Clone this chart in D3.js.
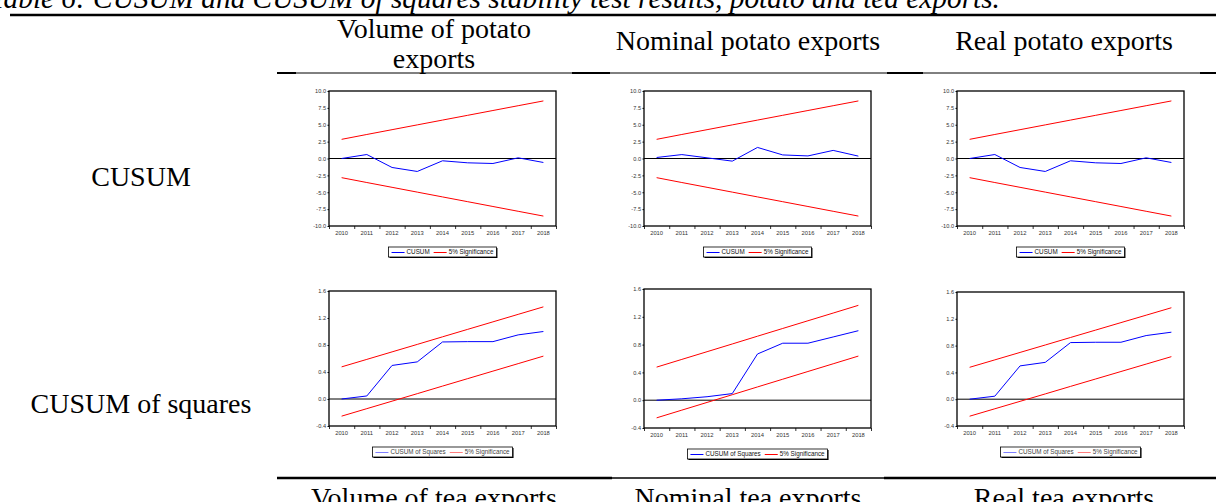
<!DOCTYPE html>
<html>
<head>
<meta charset="utf-8">
<script src="https://cdn.jsdelivr.net/npm/d3@7"></script>
<style>
  body { margin: 0; background: #fff; }
  svg { display: block; }
</style>
</head>
<body>
<svg></svg>
<script>
/* Data */
const years = ['2010', '2011', '2012', '2013', '2014', '2015', '2016', '2017', '2018']

const cusumVolumePotato = [0, 0.59, -1.33, -1.92, -0.34, -0.64, -0.74, 0.1, -0.59]
const cusumNominalPotato = [0.15, 0.58, 0.1, -0.39, 1.64, 0.53, 0.38, 1.2, 0.35]
const cusumRealPotato = [0, 0.59, -1.33, -1.92, -0.34, -0.64, -0.74, 0.1, -0.59]
const cusumUpper = [2.84, 3.56, 4.27, 4.98, 5.69, 6.40, 7.11, 7.82, 8.53]
const cusumLower = [-2.84, -3.56, -4.27, -4.98, -5.69, -6.40, -7.11, -7.82, -8.53]

const cusumsqVolumeTea = [0, 0.045, 0.497, 0.55, 0.845, 0.85, 0.85, 0.95, 1.0]
const cusumsqNominalTea = [0, 0.02, 0.05, 0.095, 0.665, 0.82, 0.82, 0.91, 1.0]
const cusumsqRealTea = [0, 0.045, 0.497, 0.55, 0.845, 0.85, 0.85, 0.95, 1.0]
const cusumsqUpper = [0.476, 0.587, 0.698, 0.809, 0.921, 1.032, 1.143, 1.254, 1.365]
const cusumsqLower = [-0.254, -0.143, -0.032, 0.079, 0.191, 0.302, 0.413, 0.524, 0.635]

const cusumTicks = [-10, -7.5, -5, -2.5, 0, 2.5, 5, 7.5, 10]
const cusumsqTicks = [-0.4, 0, 0.4, 0.8, 1.2, 1.6]

const title = 'Table 6: CUSUM and CUSUM of squares stability test results, potato and tea exports.'
const topHeaders = [['Volume of potato', 'exports'], ['Nominal potato exports'], ['Real potato exports']]
const bottomHeaders = ['Volume of tea exports', 'Nominal tea exports', 'Real tea exports']
const rowLabels = ['CUSUM', 'CUSUM of squares']

let svgWidth = 1216
let svgHeight = 502
let serif = 'Liberation Serif, Times New Roman, serif'
let sans = 'Liberation Sans, Arial, sans-serif'

let svg = d3.select('svg')
    .attr('width', svgWidth)
    .attr('height', svgHeight)

svg.append('rect')
    .attr('width', svgWidth)
    .attr('height', svgHeight)
    .attr('fill', '#fff')

/* Title (cut at the top edge) */
svg.append('text')
    .attr('x', -10)
    .attr('y', 8)
    .attr('font-family', serif)
    .attr('font-style', 'italic')
    .attr('font-size', 29.3)
    .text(title)

/* Table rules */
function rule(x0, x1, y, w) {
  svg.append('line')
      .attr('x1', x0).attr('x2', x1)
      .attr('y1', y).attr('y2', y)
      .attr('stroke', '#000')
      .attr('stroke-width', w)
}
rule(10, 1216, 15, 2.5)
rule(277, 1216, 73, 1)
;[[277, 296], [572, 610], [887, 923], [1200, 1216]].forEach(s => rule(s[0], s[1], 73, 2))
rule(277, 612, 478, 2.5)
rule(612, 884, 478, 1.5)
rule(884, 1216, 478, 2.5)

/* Column headers */
let colCenters = [434, 748, 1064]
topHeaders.forEach((lines, i) => {
  let ys = lines.length === 2 ? [38, 68] : [50]
  lines.forEach((t, j) => {
    svg.append('text')
        .attr('x', colCenters[i])
        .attr('y', ys[j])
        .attr('text-anchor', 'middle')
        .attr('font-family', serif)
        .attr('font-size', 28)
        .text(t)
  })
})
bottomHeaders.forEach((t, i) => {
  svg.append('text')
      .attr('x', colCenters[i])
      .attr('y', 507)
      .attr('text-anchor', 'middle')
      .attr('font-family', serif)
      .attr('font-size', 28)
      .text(t)
})

/* Row labels */
;[186, 413].forEach((y, i) => {
  svg.append('text')
      .attr('x', 141)
      .attr('y', y)
      .attr('text-anchor', 'middle')
      .attr('font-family', serif)
      .attr('font-size', 28)
      .text(rowLabels[i])
})

/* Panels */
let panels = [
  { x0: 329, x1: 556, y0: 91, y1: 226, domain: [-10, 10], ticks: cusumTicks, values: cusumVolumePotato, upper: cusumUpper, lower: cusumLower, label: 'CUSUM', legendY: 247, fade: false },
  { x0: 644, x1: 871, y0: 91, y1: 226, domain: [-10, 10], ticks: cusumTicks, values: cusumNominalPotato, upper: cusumUpper, lower: cusumLower, label: 'CUSUM', legendY: 247, fade: false },
  { x0: 957, x1: 1184, y0: 91, y1: 226, domain: [-10, 10], ticks: cusumTicks, values: cusumRealPotato, upper: cusumUpper, lower: cusumLower, label: 'CUSUM', legendY: 247, fade: false },
  { x0: 329, x1: 556, y0: 291, y1: 426, domain: [-0.4, 1.6], ticks: cusumsqTicks, values: cusumsqVolumeTea, upper: cusumsqUpper, lower: cusumsqLower, label: 'CUSUM of Squares', legendY: 447, fade: true },
  { x0: 644, x1: 871, y0: 289, y1: 428, domain: [-0.4, 1.6], ticks: cusumsqTicks, values: cusumsqNominalTea, upper: cusumsqUpper, lower: cusumsqLower, label: 'CUSUM of Squares', legendY: 449, fade: false },
  { x0: 957, x1: 1184, y0: 292, y1: 426, domain: [-0.4, 1.6], ticks: cusumsqTicks, values: cusumsqRealTea, upper: cusumsqUpper, lower: cusumsqLower, label: 'CUSUM of Squares', legendY: 447, fade: true }
]

panels.forEach(drawPanel)

function drawPanel(p) {
  let g = svg.append('g')

  let xScale = d3.scaleBand()
                  .domain(years)
                  .range([p.x0, p.x1])
  let yScale = d3.scaleLinear()
                  .domain(p.domain)
                  .range([p.y1, p.y0])
  let edgeScale = d3.scaleLinear()
                  .domain([0, years.length])
                  .range([p.x0, p.x1])

  /* y-axis */
  g.append('g')
      .attr('transform', `translate(${p.x0}, 0)`)
      .call(d3.axisLeft(yScale)
              .tickValues(p.ticks)
              .tickSize(1.5)
              .tickPadding(1.5)
              .tickFormat(d => d.toFixed(1)))
      .call(a => a.select('.domain').remove())
      .call(a => a.selectAll('text')
                    .attr('font-family', sans)
                    .attr('font-size', 5.6)
                    .attr('fill', '#333'))

  /* x-axis labels between boundary ticks */
  g.append('g')
      .attr('transform', `translate(0, ${p.y1})`)
      .call(d3.axisBottom(xScale).tickSize(0).tickPadding(4.5))
      .call(a => a.select('.domain').remove())
      .call(a => a.selectAll('text')
                    .attr('font-family', sans)
                    .attr('font-size', 5.8)
                    .attr('fill', '#333'))

  g.append('g')
      .attr('transform', `translate(0, ${p.y1})`)
      .call(d3.axisBottom(edgeScale).ticks(years.length).tickSize(3).tickFormat(''))
      .call(a => a.select('.domain').remove())
      .call(a => a.selectAll('line').attr('stroke-width', 0.8))

  /* zero line */
  g.append('line')
      .attr('x1', p.x0).attr('x2', p.x1)
      .attr('y1', yScale(0)).attr('y2', yScale(0))
      .attr('stroke', '#000')
      .attr('stroke-width', 1)

  let line = d3.line()
                .x((d, i) => xScale(years[i]) + xScale.bandwidth() / 2)
                .y(d => yScale(d))

  ;[p.upper, p.lower].forEach(s => {
    g.append('path')
        .datum(s)
        .attr('d', line)
        .attr('fill', 'none')
        .attr('stroke', '#ff0000')
        .attr('stroke-width', 1)
  })

  g.append('path')
      .datum(p.values)
      .attr('d', line)
      .attr('fill', 'none')
      .attr('stroke', '#0000ff')
      .attr('stroke-width', 1)

  /* frame */
  g.append('rect')
      .attr('x', p.x0)
      .attr('y', p.y0)
      .attr('width', p.x1 - p.x0)
      .attr('height', p.y1 - p.y0)
      .attr('fill', 'none')
      .attr('stroke', '#000')
      .attr('stroke-width', 1.3)

  drawLegend(g, p)
}

function drawLegend(g, p) {
  let items = [{ label: p.label, color: '#0000ff' }, { label: '5% Significance', color: '#ff0000' }]
  let lg = g.append('g')
  let x = 3
  let h = 10
  items.forEach((it, i) => {
    lg.append('line')
        .attr('x1', x).attr('x2', x + 13)
        .attr('y1', h / 2 + 0.5).attr('y2', h / 2 + 0.5)
        .attr('stroke', it.color)
        .attr('stroke-width', 1)
        .attr('opacity', p.fade ? 0.5 : 1)
    x += 15
    let t = lg.append('text')
        .attr('x', x)
        .attr('y', h / 2 + 2)
        .attr('font-family', sans)
        .attr('font-size', 6.3)
        .attr('fill', p.fade ? '#444' : '#111')
        .text(it.label)
    x += t.node().getComputedTextLength() + (i === 0 ? 4 : 3)
  })
  let w = x
  lg.insert('rect', ':first-child')
      .attr('x', 1).attr('y', 1)
      .attr('width', w).attr('height', h)
      .attr('fill', '#000')
  lg.insert('rect', ':nth-child(2)')
      .attr('x', 0).attr('y', 0)
      .attr('width', w).attr('height', h)
      .attr('fill', '#fff')
      .attr('stroke', '#000')
      .attr('stroke-width', 0.8)
  let cx = (p.x0 + p.x1) / 2
  lg.attr('transform', `translate(${cx - w / 2}, ${p.legendY})`)
}
</script>
</body>
</html>
